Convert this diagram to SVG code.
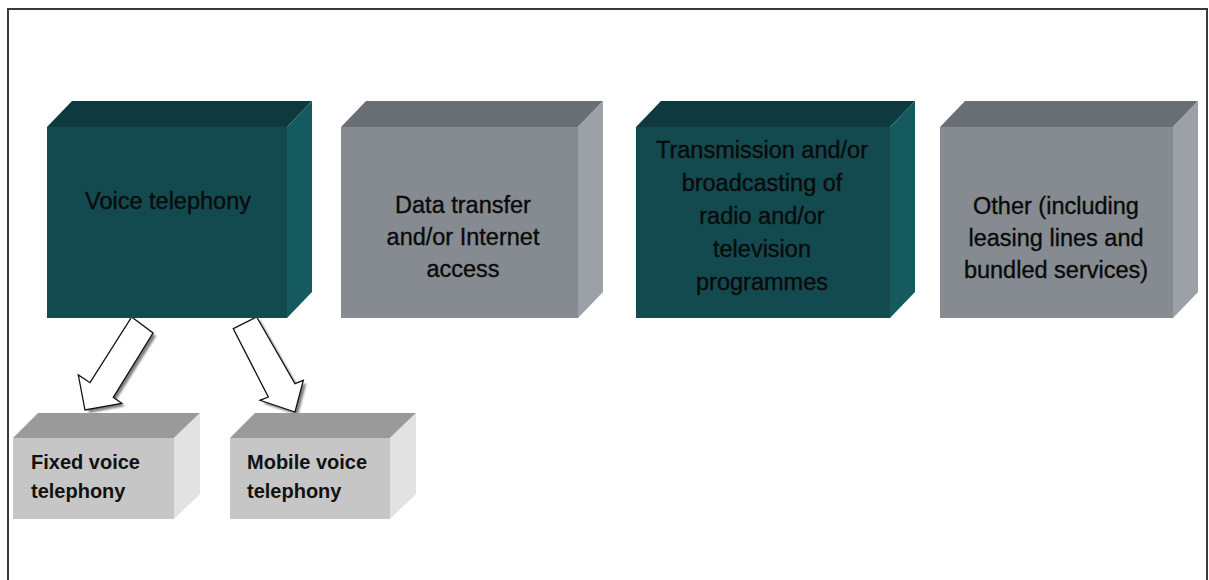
<svg xmlns="http://www.w3.org/2000/svg" width="1209" height="580" viewBox="0 0 1209 580">
  <defs>
    <style>
      .tealFront{fill:#124A50}
      .tealTop{fill:#0E3A3F}
      .tealSide{fill:#155A5F}
      .grayFront{fill:#858B90}
      .grayTop{fill:#6A6F75}
      .graySide{fill:#9BA1A7}
      .ltFront{fill:#C6C6C6}
      .ltTop{fill:#9A9A9A}
      .ltSide{fill:#E2E2E2}
      .lbl{font-family:"Liberation Sans",Arial,sans-serif;font-size:23.5px;fill:#0a0a0a;stroke:#0a0a0a;stroke-width:0.35;text-anchor:middle}
      .sml{font-family:"Liberation Sans",Arial,sans-serif;font-size:20px;font-weight:bold;fill:#111}
      .arrow{fill:#fff;stroke:#111;stroke-width:1.3;stroke-linejoin:miter}
      .shadow{fill:#555;opacity:0.75}
    </style>
    <filter id="blur" x="-20%" y="-20%" width="140%" height="140%">
      <feGaussianBlur stdDeviation="1"/>
    </filter>
  </defs>
  <rect x="0" y="0" width="1209" height="580" fill="#fff"/>
  <path d="M8,580 V9 H1207 V580" fill="none" stroke="#3a3a3a" stroke-width="2"/>

  <g id="connectors">
    <polygon class="shadow" filter="url(#blur)" points="134.7,320 156,336 116,400 125,406 89,413 81,378 93,386"/>
    <polygon class="arrow" points="131.7,317 153,333 113.3,397.3 121.7,403.3 85,410 78.3,375 90,382.7"/>
    <polygon class="shadow" filter="url(#blur)" points="236.3,331.7 259.7,320 298,386.7 306.3,383.3 298,415 263,403.3 271.3,400"/>
    <polygon class="arrow" points="233.3,328.7 256.7,317 295,383.7 303.3,380.3 295,412 260,400.3 268.3,397"/>
  </g>

  <g id="node-voice">
    <polygon class="tealTop" points="47,127 72,101 312,101 287,127"/>
    <polygon class="tealSide" points="287,127 312,101 312,292 287,318"/>
    <rect class="tealFront" x="47" y="127" width="240" height="191"/>
    <text class="lbl" x="168" y="209">Voice telephony</text>
  </g>

  <g id="node-data">
    <polygon class="grayTop" points="341,127 366,101 603,101 578,127"/>
    <polygon class="graySide" points="578,127 603,101 603,292 578,318"/>
    <rect class="grayFront" x="341" y="127" width="237" height="191"/>
    <text class="lbl" x="463" y="213">Data transfer</text>
    <text class="lbl" x="463" y="245">and/or Internet</text>
    <text class="lbl" x="463" y="277">access</text>
  </g>

  <g id="node-transmission">
    <polygon class="tealTop" points="636,127 661,101 915,101 890,127"/>
    <polygon class="tealSide" points="890,127 915,101 915,292 890,318"/>
    <rect class="tealFront" x="636" y="127" width="254" height="191"/>
    <text class="lbl" x="762" y="158">Transmission and/or</text>
    <text class="lbl" x="762" y="191">broadcasting of</text>
    <text class="lbl" x="762" y="224">radio and/or</text>
    <text class="lbl" x="762" y="257">television</text>
    <text class="lbl" x="762" y="290">programmes</text>
  </g>

  <g id="node-other">
    <polygon class="grayTop" points="940,127 965,101 1198,101 1173,127"/>
    <polygon class="graySide" points="1173,127 1198,101 1198,292 1173,318"/>
    <rect class="grayFront" x="940" y="127" width="233" height="191"/>
    <text class="lbl" x="1056" y="214">Other (including</text>
    <text class="lbl" x="1056" y="246">leasing lines and</text>
    <text class="lbl" x="1056" y="278">bundled services)</text>
  </g>

  <g id="node-fixed">
    <polygon class="ltTop" points="13,438 38,413 200,413 174,438"/>
    <polygon class="ltSide" points="174,438 200,413 200,494 174,519"/>
    <rect class="ltFront" x="13" y="438" width="161" height="81"/>
    <text class="sml" x="31" y="469">Fixed voice</text>
    <text class="sml" x="31" y="498">telephony</text>
  </g>

  <g id="node-mobile">
    <polygon class="ltTop" points="230,438 255,413 416,413 390,438"/>
    <polygon class="ltSide" points="390,438 416,413 416,494 390,519"/>
    <rect class="ltFront" x="230" y="438" width="160" height="81"/>
    <text class="sml" x="247" y="469">Mobile voice</text>
    <text class="sml" x="247" y="498">telephony</text>
  </g>
</svg>
